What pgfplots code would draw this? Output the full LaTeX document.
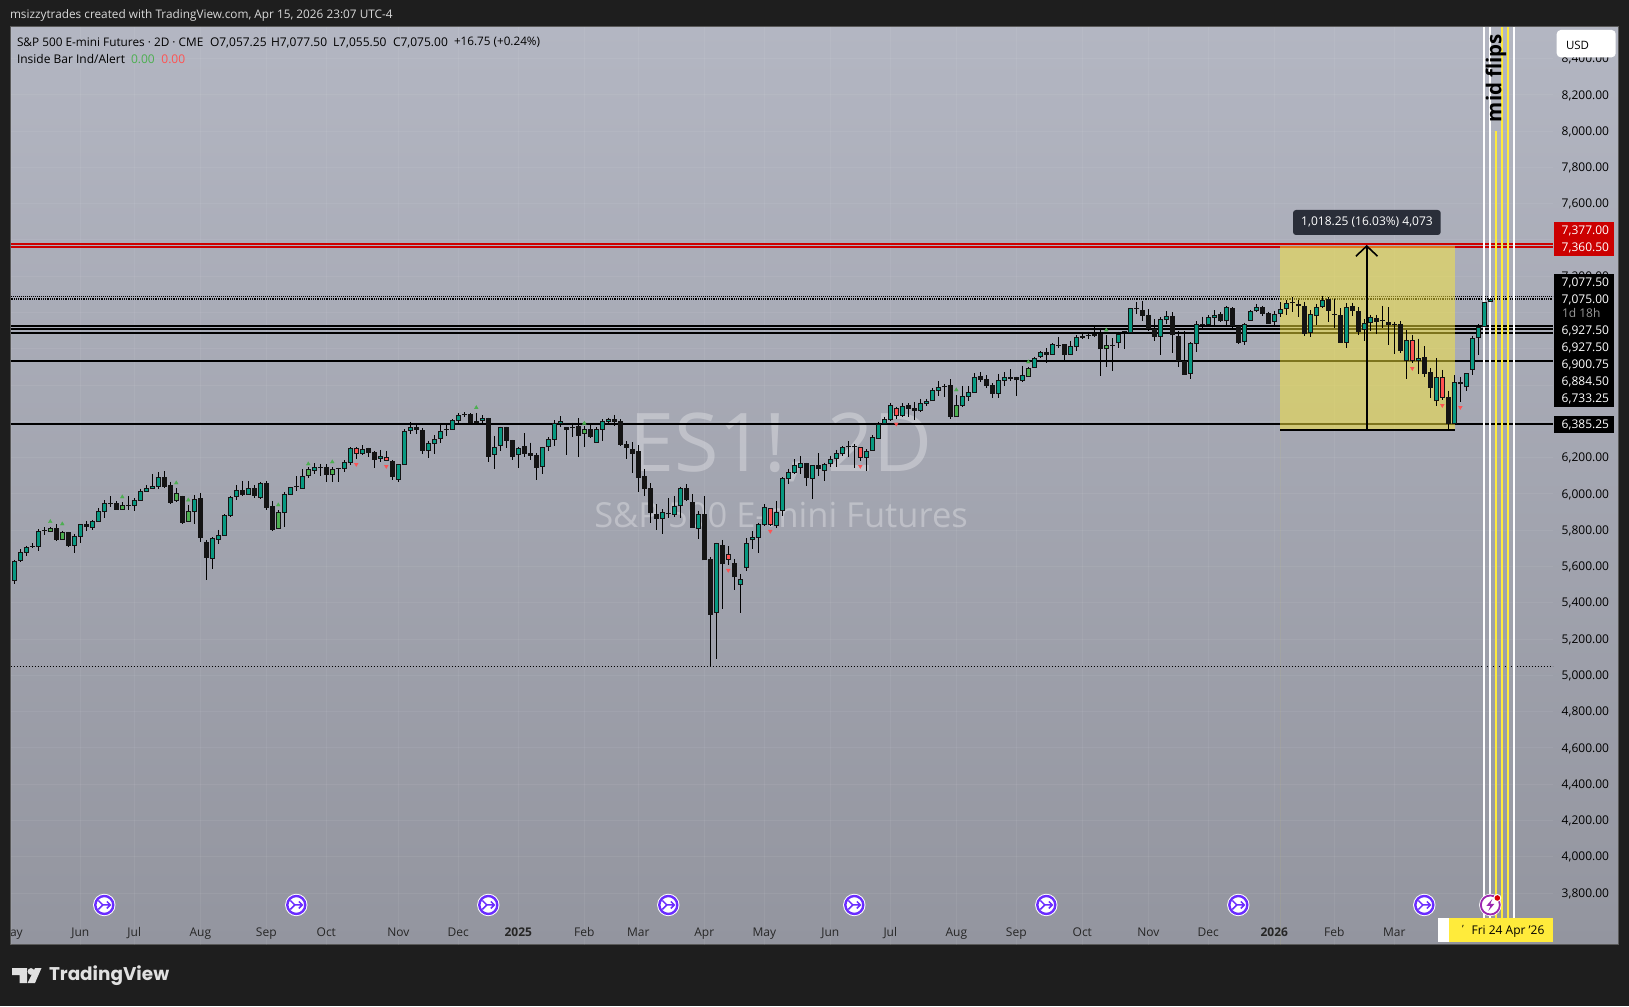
\documentclass[border=0pt]{standalone}
\usepackage{fontspec}
\setmainfont{Open Sans}
\newfontfamily\pop{Poppins}
\usepackage{pgfplots}
\usepackage{pgfplotstable}
\pgfplotsset{compat=1.18}
\newcommand\fs[1]{\fontsize{#1}{#1}\selectfont}
\definecolor{frame}{HTML}{1E1E1E}
\definecolor{panetop}{HTML}{B3B6C2}
\definecolor{panebot}{HTML}{93959F}
\definecolor{tealc}{HTML}{089981}
\definecolor{greenc}{HTML}{4CAF50}
\definecolor{redc}{HTML}{FF5252}
\definecolor{blackc}{HTML}{141414}
\definecolor{evp}{HTML}{6A2CFF}
\definecolor{evm}{HTML}{9C27B0}
\definecolor{tvy}{HTML}{FBE93B}
\definecolor{tvline}{HTML}{FFEB3B}
\definecolor{tvr}{HTML}{CC0000}
\definecolor{tip}{HTML}{2A2E39}
\pgfplotstableread{
x o h l c
0 5522 5636 5503 5628
1 5632 5696 5627 5678
2 5676 5715 5660 5706
3 5709 5729 5700 5713
4 5706 5805 5687 5794
5 5797 5816 5774 5801
10 5715 5779 5676 5766
11 5764 5834 5731 5832
13 5814 5856 5803 5849
14 5847 5921 5847 5904
15 5902 5965 5867 5948
16 5944 5988 5926 5948
19 5933 5988 5911 5937
20 5935 5976 5908 5965
21 5963 6029 5963 6014
22 6012 6047 6012 6031
23 6029 6110 6029 6042
24 6040 6119 6029 6091
30 5902 5992 5834 5970
33 5643 5761 5586 5755
34 5748 5801 5726 5772
35 5770 5887 5770 5882
36 5880 5987 5873 5981
37 5985 6047 5966 6020
39 5996 6069 5996 6031
41 5979 6066 5970 6058
45 5897 6011 5818 5998
46 5996 6038 5996 6036
47 6036 6097 6016 6040
48 6029 6137 6029 6097
50 6128 6169 6110 6146
51 6143 6165 6099 6146
54 6139 6145 6066 6143
55 6139 6185 6121 6174
56 6172 6257 6159 6255
58 6222 6268 6214 6246
61 6194 6242 6176 6207
64 6078 6165 6066 6163
65 6161 6356 6161 6345
66 6349 6394 6330 6367
69 6238 6293 6198 6279
70 6277 6323 6220 6304
71 6304 6378 6281 6349
72 6354 6387 6319 6358
73 6354 6411 6352 6405
74 6403 6444 6392 6433
75 6435 6451 6422 6438
78 6402 6433 6392 6416
80 6216 6319 6139 6260
81 6266 6370 6238 6367
84 6216 6260 6143 6251
88 6150 6260 6111 6256
89 6256 6312 6236 6301
90 6299 6405 6266 6389
91 6387 6427 6370 6400
93 6361 6392 6315 6365
97 6282 6367 6282 6356
98 6354 6411 6291 6400
99 6398 6420 6392 6411
108 5863 5915 5781 5898
109 5887 5977 5867 5893
110 5885 5988 5874 5931
111 5931 6040 5867 6031
114 5805 5907 5751 5887
117 5342 5731 5092 5727
121 5500 5558 5345 5529
122 5593 5755 5577 5731
123 5744 5794 5696 5760
124 5759 5841 5676 5832
125 5830 5942 5823 5926
127 5825 5961 5814 5898
128 5904 6091 5880 6086
129 6084 6139 6054 6119
130 6117 6190 6110 6161
131 6144 6209 6110 6168
133 6084 6159 5974 6157
135 6128 6172 6073 6163
136 6163 6211 6148 6190
137 6190 6242 6148 6223
138 6222 6264 6211 6256
139 6256 6291 6201 6260
142 6200 6245 6128 6238
143 6238 6323 6238 6312
144 6304 6398 6304 6383
145 6385 6425 6384 6413
146 6409 6501 6402 6488
148 6431 6499 6426 6483
151 6459 6523 6453 6499
152 6497 6523 6485 6510
153 6510 6584 6510 6571
154 6569 6620 6542 6587
155 6589 6606 6536 6593
158 6486 6595 6477 6538
159 6536 6593 6510 6560
160 6558 6665 6558 6646
164 6553 6661 6530 6626
165 6624 6670 6595 6646
168 6624 6705 6619 6654
170 6696 6756 6692 6751
171 6756 6788 6747 6780
173 6767 6830 6767 6824
174 6817 6863 6804 6821
176 6767 6843 6764 6813
177 6812 6874 6788 6863
179 6870 6894 6856 6874
180 6872 6920 6867 6883
183 6815 6857 6679 6819
184 6830 6894 6804 6880
185 6891 6898 6799 6894
186 6885 7025 6885 7023
187 7021 7058 6992 7025
191 6867 6973 6767 6962
192 6960 7006 6936 6979
196 6663 6835 6635 6830
197 6828 6951 6784 6935
199 6933 6986 6927 6973
200 6971 7012 6931 6984
202 6951 7036 6931 7032
205 6839 6944 6823 6938
206 6955 7014 6955 7006
207 7006 7047 7003 7028
210 6949 7010 6931 6990
211 6992 7056 6977 7017
212 7017 7069 6986 7050
216 6889 7014 6867 6990
217 6982 7047 6931 7028
218 7028 7093 7023 7069
220 6988 7076 6914 6992
222 6834 7050 6806 7032
225 6902 6962 6843 6940
226 6940 6986 6896 6973
228 6951 7036 6916 6955
232 6734 6903 6633 6846
234 6731 6856 6661 6747
237 6510 6747 6485 6643
240 6384 6655 6384 6615
242 6587 6666 6569 6665
243 6683 6872 6655 6858
244 6858 6936 6766 6922
245 6922 7060 6922 7056
246 7057.25 7077.5 7055.5 7075
}\tealbars
\pgfplotstableread{
x o h l c
7 5810 5832 5740 5748
9 5788 5790 5709 5715
12 5832 5851 5796 5819
17 5948 5959 5913 5913
25 6091 6126 6034 6040
26 6047 6066 5946 5952
28 5987 5990 5836 5842
31 5976 6005 5735 5759
32 5733 5746 5526 5649
38 6020 6071 5988 5996
40 6031 6047 5977 5990
42 6058 6069 5911 5924
43 5932 5961 5797 5803
52 6146 6163 6066 6106
59 6251 6255 6203 6227
60 6229 6235 6143 6189
63 6180 6187 6077 6095
67 6367 6378 6330 6354
68 6354 6361 6220 6238
76 6438 6444 6389 6392
77 6400 6446 6389 6389
79 6416 6420 6177 6205
82 6367 6370 6255 6293
83 6295 6297 6189 6205
85 6262 6335 6205 6222
86 6223 6282 6189 6211
87 6212 6223 6078 6144
92 6367 6369 6216 6354
94 6372 6416 6205 6321
96 6356 6378 6306 6315
100 6411 6435 6376 6398
101 6400 6411 6264 6271
102 6273 6290 6192 6255
103 6245 6284 6117 6222
104 6234 6269 6012 6089
105 6097 6135 5988 6029
106 6031 6058 5841 5896
107 5887 5944 5803 5863
112 6031 6054 5963 5966
113 5953 5999 5814 5814
115 5887 5988 5634 5634
116 5639 5650 5051 5334
118 5716 5746 5367 5612
120 5617 5641 5470 5540
132 6168 6172 6043 6086
134 6157 6223 6100 6135
140 6260 6273 6143 6256
149 6488 6499 6422 6470
150 6472 6507 6407 6459
156 6598 6633 6411 6426
161 6648 6672 6619 6630
162 6632 6655 6586 6597
163 6598 6609 6530 6553
166 6646 6688 6624 6635
167 6643 6646 6542 6626
172 6780 6802 6723 6767
175 6824 6826 6736 6767
178 6868 6894 6852 6861
181 6883 6913 6650 6797
188 7012 7063 6955 6979
189 6984 7019 6900 6909
190 6907 6962 6845 6867
193 6979 7001 6778 6874
194 6868 6900 6699 6734
195 6731 6900 6657 6657
198 6935 6977 6909 6929
201 6990 7001 6946 6951
203 7023 7028 6916 6927
204 6927 6931 6828 6834
208 7028 7036 6979 6993
209 6995 7004 6938 6938
213 7056 7083 7004 7050
214 7045 7069 6973 7034
215 7036 7060 6870 6883
219 7072 7083 6949 7010
221 6984 7023 6834 6834
223 7034 7054 6981 7010
224 7010 7028 6876 6894
227 6970 6986 6881 6949
229 6946 7028 6821 6933
230 6936 6949 6771 6933
231 6935 6953 6778 6790
235 6753 6815 6646 6663
236 6670 6692 6527 6586
239 6532 6569 6352 6384
}\blackbars
\pgfplotstableread{
x o h l c
6 5792 5818 5788 5810
8 5748 5797 5746 5788
18 5913 5955 5913 5937
27 5963 6033 5957 6003
29 5847 5939 5847 5904
44 5808 5911 5808 5898
49 6101 6146 6090 6135
53 6106 6146 6066 6135
95 6332 6376 6260 6356
157 6422 6545 6422 6488
169 6646 6700 6646 6692
182 6797 6876 6699 6819
}\greenbars
\pgfplotstableread{
x o h l c
57 6255 6257 6192 6222
62 6205 6236 6181 6183
119 5667 5713 5610 5637
126 5920 5922 5823 5830
141 6256 6258 6183 6200
147 6472 6481 6415 6431
233 6846 6876 6720 6734
238 6643 6683 6518 6530
241 6615 6646 6508 6604
}\redbars
\newcommand\candles[2]{%
 \addplot[draw=none,mark=none,forget plot,error bars/.cd,y dir=minus,y explicit,error mark=none,
   error bar style={black,line width=1.1pt}]
   table[x=x,y=h,y error minus expr=\thisrow{h}-\thisrow{l}]{#1};
 \addplot[draw=none,mark=none,forget plot,error bars/.cd,y dir=plus,y explicit,error mark=none,
   error bar style={blackc,line width=4.8pt}]
   table[x=x,y expr={min(\thisrow{o},\thisrow{c})},y error plus expr={max(abs(\thisrow{o}-\thisrow{c}),6)}]{#1};
 \addplot[draw=none,mark=none,forget plot,error bars/.cd,y dir=plus,y explicit,error mark=none,
   error bar style={#2,line width=2.8pt}]
   table[x=x,y expr={min(\thisrow{o},\thisrow{c})+5.5},y error plus expr={max(abs(\thisrow{o}-\thisrow{c})-11,0)}]{#1};
}
\pgfdeclareplotmark{evblue}{%
 \pgfsetfillcolor{white}\pgfpathcircle{\pgfpointorigin}{11.2pt}\pgfusepath{fill}%
 \pgfsetstrokecolor{evp}\pgfsetlinewidth{2.4pt}\pgfpathcircle{\pgfpointorigin}{9pt}\pgfusepath{stroke}%
 \pgfsetlinewidth{1.5pt}%
 \pgfpathmoveto{\pgfqpoint{-6pt}{4.5pt}}\pgfpathlineto{\pgfqpoint{-1.5pt}{0pt}}\pgfpathlineto{\pgfqpoint{-6pt}{-4.5pt}}%
 \pgfpathmoveto{\pgfqpoint{-1.5pt}{0pt}}\pgfpathlineto{\pgfqpoint{6pt}{0pt}}%
 \pgfpathmoveto{\pgfqpoint{2.5pt}{3.5pt}}\pgfpathlineto{\pgfqpoint{6pt}{0pt}}\pgfpathlineto{\pgfqpoint{2.5pt}{-3.5pt}}%
 \pgfusepath{stroke}}
\pgfdeclareplotmark{evbolt}{%
 \pgfsetfillcolor{white}\pgfpathcircle{\pgfpointorigin}{11.2pt}\pgfusepath{fill}%
 \pgfsetstrokecolor{evm}\pgfsetlinewidth{1.8pt}\pgfpathcircle{\pgfpointorigin}{9.5pt}\pgfusepath{stroke}%
 \pgfsetfillcolor{evm}%
 \pgfpathmoveto{\pgfqpoint{2pt}{6pt}}\pgfpathlineto{\pgfqpoint{-4pt}{-1pt}}\pgfpathlineto{\pgfqpoint{0pt}{-1pt}}%
 \pgfpathlineto{\pgfqpoint{-2pt}{-6pt}}\pgfpathlineto{\pgfqpoint{4pt}{1pt}}\pgfpathlineto{\pgfqpoint{0pt}{1pt}}\pgfpathclose\pgfusepath{fill}%
 \pgfsetfillcolor{white}\pgfpathcircle{\pgfqpoint{7pt}{7pt}}{4pt}\pgfusepath{fill}%
 \pgfsetfillcolor{red!85!black}\pgfpathcircle{\pgfqpoint{7pt}{7pt}}{2.8pt}\pgfusepath{fill}}
\begin{document}
\begin{tikzpicture}[every node/.style={inner sep=0pt,outer sep=0pt}]
\path[use as bounding box] (0pt,0pt) rectangle (1629pt,1006pt);
\fill[frame] (0pt,0pt) rectangle (1629pt,1006pt);
\shade[top color=panetop,bottom color=panebot,draw=none] (10.5pt,61pt) rectangle (1618.5pt,979pt);
\draw[gray!70!black,line width=1pt] (10.5pt,61pt) rectangle (1618.5pt,979pt);
% watermark
\node[text=white,opacity=.3] at (781pt,559pt) {\fs{81}ES1!, 2D};
\node[text=white,opacity=.3] at (781pt,491pt) {\fs{34.5}S\&P 500 E-mini Futures};
\begin{axis}[
 at={(10.5pt,61pt)},anchor=south west,scale only axis,
 width=1542.5pt,height=918pt,
 xmin=-0.633,xmax=256.45,ymin=3513.4,ymax=8573.4,
 axis line style={draw=none},major tick length=0pt,
 ytick={3800,4000,...,8400},
 xtick={-0.55,11,20,31,42,52,64,74,84,95,104,115,125,136,146,157,167,178,189,199,210,220,230},
 xticklabels={May,Jun,Jul,Aug,Sep,Oct,Nov,Dec,\textbf{2025},Feb,Mar,Apr,May,Jun,Jul,Aug,Sep,Oct,Nov,Dec,\textbf{2026},Feb,Mar},
 grid=major,major grid style={white,opacity=.06,line width=.8pt},
 ytick pos=right,yticklabel pos=right,
 scaled y ticks=false,
 yticklabel style={/pgf/number format/.cd,assume math mode=true,fixed,fixed zerofill,precision=2,1000 sep={,},
   /tikz/.cd,anchor=east,xshift=56pt,yshift=-0.7pt,font=\fs{12},text=black},
 xticklabel style={anchor=base,yshift=9pt,font=\fs{12},text=black!85},
 clip=true,
]
% horizontal levels
\addplot[tvr,line width=1.7pt,forget plot] coordinates {(-0.633,7377)(256.45,7377)};
\addplot[tvr,line width=1.7pt,forget plot] coordinates {(-0.633,7360.5)(256.45,7360.5)};
\addplot[black,line width=1pt,dash pattern=on 1pt off 1pt,forget plot] coordinates {(-0.633,7090)(256.45,7090)};
\addplot[black,line width=2pt,dash pattern=on 1pt off .8pt,forget plot] coordinates {(-0.633,7075)(256.45,7075)};
\addplot[black,line width=2pt,forget plot] coordinates {(-0.633,6927.5)(256.45,6927.5)};
\addplot[black,line width=2pt,forget plot] coordinates {(-0.633,6907)(256.45,6907)};
\addplot[black,line width=2pt,forget plot] coordinates {(-0.633,6889)(256.45,6889)};
\addplot[black,line width=2pt,forget plot] coordinates {(-0.633,6733.25)(256.45,6733.25)};
\addplot[black,line width=2pt,forget plot] coordinates {(-0.633,6385.25)(256.45,6385.25)};
\addplot[black,line width=.9pt,dash pattern=on 1pt off 2pt,forget plot] coordinates {(-0.633,5049)(256.45,5049)};
% vertical lines
\addplot[white,line width=2pt,forget plot] coordinates {(245,8573)(245,3662)};
\addplot[white,line width=2pt,forget plot] coordinates {(246,8573)(246,3662)};
\addplot[tvline,line width=2pt,forget plot] coordinates {(247,8000)(247,3662)};
\addplot[tvline,line width=2pt,forget plot] coordinates {(248,8573)(248,3662)};
\addplot[tvline,line width=2pt,forget plot] coordinates {(249,8573)(249,3662)};
\addplot[white,line width=2pt,forget plot] coordinates {(250,8573)(250,3662)};
% measure box
\addplot[fill=tvy,fill opacity=.5,draw=none,forget plot] coordinates {(210.95,7366)(240.1,7366)(240.1,6352)(210.95,6352)} \closedcycle;
\addplot[black,line width=2pt,forget plot] coordinates {(210.95,6352)(240.1,6352)};
\addplot[black,line width=2pt,forget plot] coordinates {(225.4,6352)(225.4,7366)};
\addplot[black,line width=1.6pt,forget plot] coordinates {(223.6,7310)(225.4,7366)(227.2,7310)};
% candles
\candles{\tealbars}{tealc}
\candles{\blackbars}{blackc}
\candles{\greenbars}{greenc}
\candles{\redbars}{redc}
% inside-bar markers
\addplot[only marks,color=greenc,mark=triangle*,mark size=2.2pt,mark options={solid,fill=greenc,draw=greenc,line width=.3pt},forget plot] coordinates {
(6,5847)(8,5834)(18,5983)(27,6060)(29,5966)(44,5939)(49,6165)(53,6176)(77,6475)(95,6389)(157,6573)(169,6727)(182,6903)};
\addplot[only marks,color=redc,mark=triangle*,mark size=2.2pt,mark options={solid,fill=redc,draw=redc,line width=.3pt,rotate=180},forget plot] coordinates {
(57,6163)(62,6152)(119,5579)(126,5794)(141,6152)(147,6385)(233,6692)(238,6488)(241,6477)};
% event icons
\addplot[only marks,mark=evblue,forget plot] coordinates {(15,3734)(47,3734)(79,3734)(109,3734)(140,3734)(172,3734)(204,3734)(235,3734)};
\addplot[only marks,mark=evbolt,forget plot] coordinates {(246,3734)};
\end{axis}
% overlays, y measured from the top of the page
\begin{scope}[x=1pt,y=-1pt,shift={(0pt,1006pt)}]
\fill[frame] (0,880) rectangle (10,946);
\draw[gray!70!black,line width=1pt] (10.5,880) -- (10.5,945);
\node[anchor=west,text=white!85!black] at (10,15.5) {\fs{11.8}msizzytrades created with TradingView.com, Apr 15, 2026 23:07 UTC-4};
\node[anchor=west,text=black] at (17,42.5) {\fs{11.8}S\&P 500 E-mini Futures · 2D · CME};
\node[anchor=west,text=black] at (210,42.5) {\fs{12}O7,057.25};
\node[anchor=west,text=black] at (271,42.5) {\fs{12}H7,077.50};
\node[anchor=west,text=black] at (333,42.5) {\fs{12}L7,055.50};
\node[anchor=west,text=black] at (393,42.5) {\fs{12}C7,075.00};
\node[anchor=west,text=black] at (454,42.5) {\fs{11.7}+16.75 (+0.24\%)};
\node[anchor=west,text=black] at (17,59.5) {\fs{12}Inside Bar Ind/Alert};
\node[anchor=west,text=greenc] at (131,59.5) {\fs{12}0.00};
\node[anchor=west,text=redc] at (161.4,59.5) {\fs{12}0.00};
% tooltip
\fill[tip,rounded corners=3pt] (1293,210) rectangle (1440.7,235);
\node[text=white] at (1367,222.5) {\fs{12}1,018.25 (16.03\%) 4,073};
% mid flips
\node[rotate=90,text=black] at (1496,78) {\bfseries\fs{20.5}mid flips};
% USD
\fill[white,rounded corners=4pt] (1556.7,30) rectangle (1615.7,57.3);
\node[anchor=west,text=black] at (1566,45) {\fs{11.5}USD};
% price tags
\fill[tvr] (1554,222) rectangle (1613.7,255.7);
\node[anchor=east,text=white] at (1609,231) {\fs{12}7,377.00};
\node[anchor=east,text=white] at (1609,248) {\fs{12}7,360.50};
\fill[black] (1554,274) rectangle (1613.7,406.7);
\node[anchor=east,text=white] at (1609,283) {\fs{12}7,077.50};
\node[anchor=east,text=white] at (1609,300) {\fs{12}7,075.00};
\node[anchor=west,text=gray!80!white] at (1562,313.5) {\fs{12}1d 18h};
\node[anchor=east,text=white] at (1609,331) {\fs{12}6,927.50};
\node[anchor=east,text=white] at (1609,348) {\fs{12}6,927.50};
\node[anchor=east,text=white] at (1609,365) {\fs{12}6,900.75};
\node[anchor=east,text=white] at (1609,382) {\fs{12}6,884.50};
\node[anchor=east,text=white] at (1609,399) {\fs{12}6,733.25};
\fill[black] (1554,416) rectangle (1613.7,432.7);
\node[anchor=east,text=white] at (1609,425) {\fs{12}6,385.25};
% date tag
\fill[white] (1438,918) rectangle (1449,941.7);
\fill[tvline] (1449,918) rectangle (1552.7,941.7);
\node[text=black] at (1508,931.5) {\fs{12}Fri 24 Apr '26};
\node[text=black] at (1463,929) {\fs{10}'};
% logo
\fill[white!88!black] (12,968) -- (27,968) -- (27,983) -- (19.5,983) -- (19.5,975) -- (12,975) -- cycle;
\fill[white!88!black] (31,971.5) circle (3.4);
\fill[white!88!black] (35,968) -- (41.5,968) -- (35,983) -- (27.5,983) -- cycle;
\node[anchor=west,text=white!88!black] at (49,976) {\pop\bfseries\fs{18.4}TradingView};
\end{scope}
\end{tikzpicture}
\end{document}
